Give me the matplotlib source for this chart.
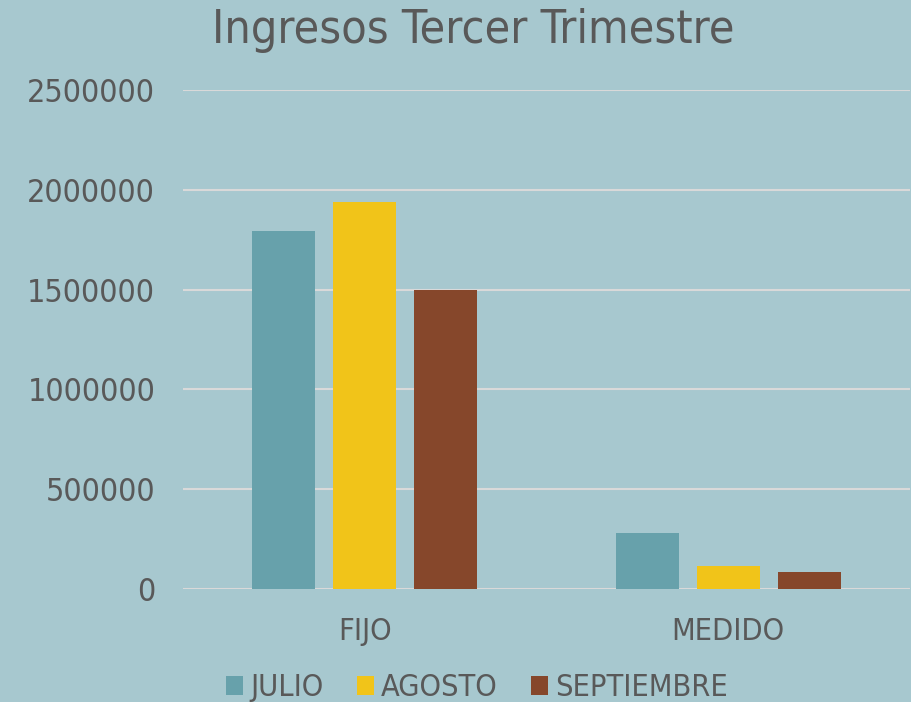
import numpy as np
import matplotlib
matplotlib.use("Agg")
import matplotlib.pyplot as plt

categories = ["FIJO", "MEDIDO"]
series = ["JULIO", "AGOSTO", "SEPTIEMBRE"]
julio = [1795000, 280000]
agosto = [1940000, 115000]
septiembre = [1500000, 85000]

colors = ["#67A1AB", "#F1C419", "#86472B"]
bg = "#A7C8CF"
text_color = "#595959"

plt.rcParams["font.family"] = ["DejaVu Sans"]
plt.rcParams["font.stretch"] = "condensed"

fig = plt.figure(figsize=(9.12, 7.02), dpi=100, facecolor=bg)
ax = fig.add_axes([183 / 912, 113 / 702, 727 / 912, 499 / 702])
ax.set_facecolor(bg)

x = np.arange(len(categories))
width = 0.173
step = 0.2225
for i, (name, vals) in enumerate(zip(series, [julio, agosto, septiembre])):
    ax.bar(x + (i - 1) * step, vals, width=width, color=colors[i], label=name, zorder=3)

ax.set_xlim(-0.5, 1.5)
ax.set_ylim(0, 2500000)
ax.set_yticks(np.arange(0, 2500001, 500000))
ax.set_yticklabels([str(v) for v in range(0, 2500001, 500000)])
ax.set_xticks(x)
ax.set_xticklabels(categories)
ax.tick_params(axis="both", length=0, colors=text_color)
ax.tick_params(axis="y", pad=20, labelsize=23)
ax.tick_params(axis="x", pad=20, labelsize=22)
ax.grid(axis="y", color="#D9D9D9", linewidth=1.5, zorder=0)
for s in ax.spines.values():
    s.set_visible(False)

fig.text(473 / 912, 1 - 43 / 702, "Ingresos Tercer Trimestre", ha="center", va="baseline",
         fontsize=33.5, color=text_color)

fig.legend(loc="center", bbox_to_anchor=(477 / 912, 1 - 688 / 702), ncol=3, frameon=False,
           fontsize=22, labelcolor=text_color, handlelength=0.55, handleheight=0.55,
           handletextpad=0.23, columnspacing=1.1)

fig.savefig("out.png", dpi=100, facecolor=bg)
